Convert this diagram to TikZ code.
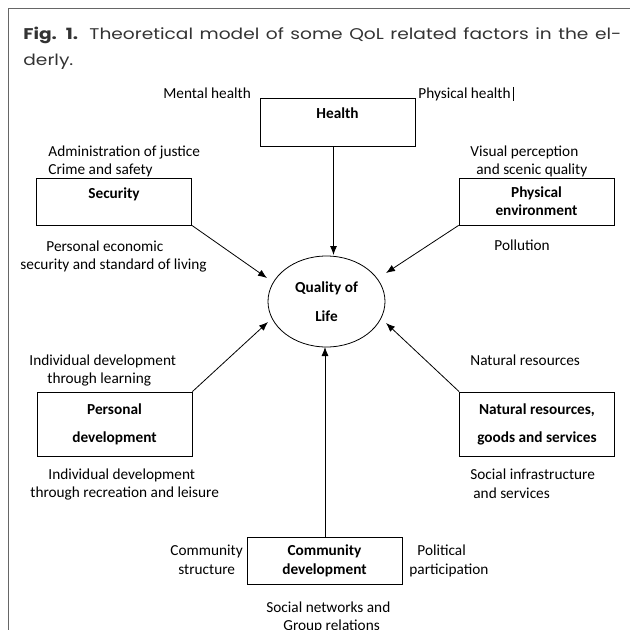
\documentclass[tikz,border=0pt]{standalone}
\usepackage{fontspec}
\setmainfont{Carlito}
\newfontfamily\titlefont[FakeStretch=1.2]{Poppins}
\usetikzlibrary{arrows.meta,shapes.geometric}

\begin{document}
\begin{tikzpicture}[x=1pt,y=-1pt,->,>={Latex[length=9pt,width=7pt]},line width=0.8pt]
    \tikzstyle{factor}=[draw,rectangle,minimum width=155pt,inner sep=0pt,align=center,font=\bfseries\fontsize{15.3}{18}\selectfont]
    \tikzstyle{note}=[anchor=base west,inner sep=0pt,font=\fontsize{15.3}{18}\selectfont]
    \tikzstyle{frame}=[-,draw=black!60,line width=1pt]

    \useasboundingbox (0,0) rectangle (630,630);

    % Draw the frame and the caption
    \draw[frame] (8,630) -- (8,8) -- (630,8);
    \node[anchor=north west,inner sep=0pt,text width=598pt,align=justify,text=black!80,
          font=\titlefont\fontsize{15.5}{26}\selectfont] (caption) at (23,26.5)
          {\textbf{Fig. 1.} Theoretical model of some QoL related factors in the el-\linebreak derly.};

    % Draw the factor boxes
    \node[factor, minimum height=48pt, text depth=17pt] (hlth) at (337.5,122) {Health};
    \node[factor, minimum height=47pt, text depth=17pt] (sec) at (114,201.5) {Security};
    \node[factor, minimum height=47pt] (phys) at (536.5,201.5) {Physical\\environment};
    \node[factor, minimum height=64pt, font=\bfseries\fontsize{15.3}{28}\selectfont] (pers) at (114.5,424) {Personal\\development};
    \node[factor, minimum height=64pt, font=\bfseries\fontsize{15.3}{28}\selectfont] (natr) at (537,424) {Natural resources,\\goods and services};
    \node[factor, minimum height=47pt, font=\bfseries\fontsize{15.3}{19}\selectfont] (comm) at (324.5,560.5) {Community\\development};

    % Draw the quality of life node
    \node[ellipse, draw, minimum width=117pt, minimum height=91pt, inner sep=0pt, align=center,
          font=\bfseries\fontsize{15.3}{29}\selectfont] (qol) at (326.5,301.5) {Quality of\\Life};

    % Draw the notes round the boxes
    \foreach \x/\y/\txt [count=\i] in {163/98/Mental health, 418/98/Physical health,
        48/156/Administration of justice, 48/174/Crime and safety,
        470/156/Visual perception, 476/174/and scenic quality,
        46/251/Personal economic, 20/269/security and standard of living, 494/250/Pollution,
        29/365/Individual development, 47/383/through learning,
        48/479/Individual development, 30/497/through recreation and leisure,
        470/365/Natural resources, 470/479/Social infrastructure, 473/498/and services,
        170/555/Community, 178/574/structure, 417/555/Political, 409/574/participation,
        266/612/Social networks and, 283/630/Group relations}
      \node[note] (note-\i) at (\x,\y) {\txt};
    \draw[-,line width=0.6pt] ([xshift=2pt]note-2.north east) -- ([xshift=2pt]note-2.south east);

    % Draw the arrows into the quality of life node
    \coordinate (tip-hlth) at (333.5,255);
    \coordinate (tip-sec) at (267,278);
    \coordinate (tip-phys) at (386,273);
    \coordinate (tip-pers) at (268,322);
    \coordinate (tip-natr) at (386,323);
    \coordinate (tip-comm) at (325,347);
    \draw (tip-hlth |- hlth.south) -- (tip-hlth);
    \draw (sec.south east) -- (tip-sec);
    \draw (phys.south west) -- (tip-phys);
    \draw (pers.north east) -- (tip-pers);
    \draw (natr.north west) -- (tip-natr);
    \draw (tip-comm |- comm.north) -- (tip-comm);
\end{tikzpicture}
\end{document}
